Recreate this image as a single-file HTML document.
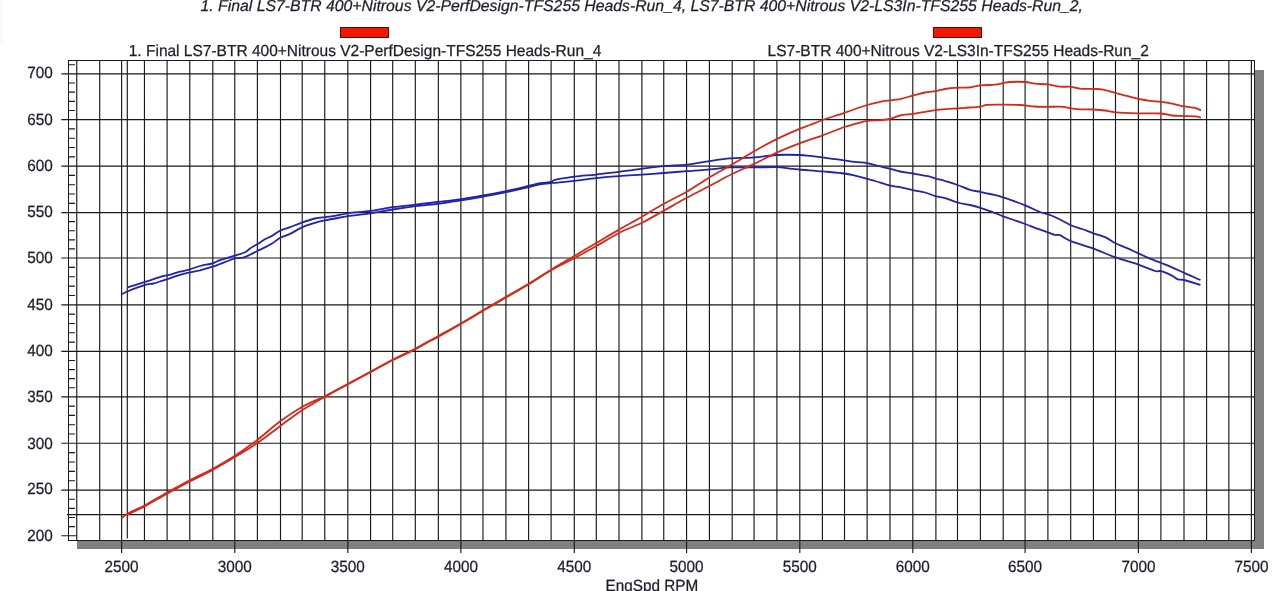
<!DOCTYPE html>
<html><head><meta charset="utf-8"><title>Dyno chart</title>
<style>
html,body{margin:0;padding:0;background:#fff;}
body{width:1280px;height:591px;overflow:hidden;}
svg{display:block;}
text{text-rendering:geometricPrecision;font-family:"Liberation Sans",Arial,sans-serif;fill:#1c1f2a;stroke:#1c1f2a;stroke-width:0.25px;}
.lbl text,text.lbl{font-size:15.3px;}
.leg{font-size:15.5px;}
.ttl{font-size:15.79px;font-style:italic;}
</style></head><body>
<svg width="1280" height="591" viewBox="0 0 1280 591">
<rect x="0" y="0" width="3" height="45" fill="#fafafa"/>
<rect x="1255" y="70" width="9" height="479" fill="#808080"/>
<rect x="77" y="541" width="1187" height="8" fill="#808080"/>
<rect x="68.5" y="60.5" width="1186.0" height="480.0" fill="#fff" stroke="#1a1a1a" stroke-width="1"/>
<path d="M76.76 60.5V540.5 M99.70 60.5V540.5 M121.60 60.5V540.5 M144.45 60.5V540.5 M167.10 60.5V540.5 M189.77 60.5V540.5 M212.80 60.5V540.5 M234.77 60.5V540.5 M257.40 60.5V540.5 M280.50 60.5V540.5 M302.20 60.5V540.5 M324.77 60.5V540.5 M347.80 60.5V540.5 M370.60 60.5V540.5 M392.70 60.5V540.5 M415.30 60.5V540.5 M438.36 60.5V540.5 M460.86 60.5V540.5 M482.97 60.5V540.5 M505.94 60.5V540.5 M528.60 60.5V540.5 M551.10 60.5V540.5 M574.30 60.5V540.5 M596.30 60.5V540.5 M619.00 60.5V540.5 M641.90 60.5V540.5 M663.75 60.5V540.5 M686.56 60.5V540.5 M709.40 60.5V540.5 M732.20 60.5V540.5 M754.06 60.5V540.5 M776.90 60.5V540.5 M799.80 60.5V540.5 M822.40 60.5V540.5 M844.50 60.5V540.5 M867.10 60.5V540.5 M890.00 60.5V540.5 M912.80 60.5V540.5 M935.90 60.5V540.5 M957.50 60.5V540.5 M980.40 60.5V540.5 M1003.20 60.5V540.5 M1025.10 60.5V540.5 M1047.90 60.5V540.5 M1070.70 60.5V540.5 M1093.40 60.5V540.5 M1115.50 60.5V540.5 M1138.40 60.5V540.5 M1160.90 60.5V540.5 M1184.00 60.5V540.5 M1206.60 60.5V540.5 M1228.85 60.5V540.5 M1251.40 60.5V540.5 M61.3 490.10H1254.5 M61.3 443.25H1254.5 M61.3 396.90H1254.5 M61.3 351.35H1254.5 M61.3 304.90H1254.5 M61.3 258.00H1254.5 M61.3 212.60H1254.5 M61.3 166.10H1254.5 M61.3 119.60H1254.5 M61.3 73.90H1254.5 M61.3 535.70H76.7 M68.5 526.58H75 M68.5 517.46H75 M68.5 508.34H75 M68.5 499.22H75 M68.5 480.73H75 M68.5 471.36H75 M68.5 461.99H75 M68.5 452.62H75 M68.5 433.98H75 M68.5 424.71H75 M68.5 415.44H75 M68.5 406.17H75 M68.5 387.79H75 M68.5 378.68H75 M68.5 369.57H75 M68.5 360.46H75 M68.5 342.06H75 M68.5 332.77H75 M68.5 323.48H75 M68.5 314.19H75 M68.5 295.52H75 M68.5 286.14H75 M68.5 276.76H75 M68.5 267.38H75 M68.5 248.92H75 M68.5 239.84H75 M68.5 230.76H75 M68.5 221.68H75 M68.5 203.30H75 M68.5 194.00H75 M68.5 184.70H75 M68.5 175.40H75 M68.5 156.80H75 M68.5 147.50H75 M68.5 138.20H75 M68.5 128.90H75 M68.5 110.46H75 M68.5 101.32H75 M68.5 92.18H75 M68.5 83.04H75 M68.5 64.70H75 M121.60 540.5V553 M234.77 540.5V553 M347.80 540.5V553 M460.86 540.5V553 M574.30 540.5V553 M686.56 540.5V553 M799.80 540.5V553 M912.80 540.5V553 M1025.10 540.5V553 M1138.40 540.5V553 M1251.40 540.5V553 M127.3 60.5V538.6 M66.8 514.6H1254.5" stroke="#1a1a1a" stroke-width="1.15" fill="none"/>
<path d="M127.2 287.5C130.1 286.6 138.4 284.1 144.3 282.2C150.2 280.3 158.9 277.2 162.7 276.1C166.5 275.0 164.4 276.2 167.3 275.5C170.2 274.8 176.2 272.7 180.0 271.7C183.8 270.7 186.5 270.3 189.8 269.4C193.1 268.4 196.2 267.0 200.0 266.0C203.8 265.0 209.3 264.3 212.6 263.3C215.9 262.3 216.3 261.5 220.0 260.2C223.7 258.9 230.8 256.9 235.0 255.6C239.2 254.3 242.5 253.4 245.0 252.2C247.5 251.1 247.9 249.8 250.0 248.4C252.1 247.0 255.2 245.6 257.7 244.1C260.2 242.5 262.6 240.6 265.0 239.2C267.4 237.8 269.4 237.3 272.0 235.9C274.6 234.5 277.3 232.0 280.3 230.6C283.3 229.1 286.3 228.6 290.0 227.2C293.7 225.8 298.3 223.8 302.5 222.3C306.7 220.9 311.2 219.4 315.0 218.5C318.8 217.6 321.9 217.5 325.2 217.1C328.5 216.6 331.2 216.4 335.0 215.8C338.8 215.2 341.9 214.1 347.8 213.3C353.7 212.5 363.0 211.9 370.5 210.9C378.0 209.9 385.3 208.2 392.8 207.2C400.3 206.1 408.0 205.5 415.5 204.6C423.0 203.7 431.9 202.7 437.7 202.0C443.4 201.3 446.1 201.1 450.0 200.6C453.9 200.1 455.7 200.0 461.2 199.2C466.8 198.3 475.6 196.8 483.1 195.5C490.6 194.2 498.5 192.7 506.1 191.1C513.7 189.5 523.1 187.3 528.8 186.0C534.4 184.7 536.2 183.9 540.0 183.2C543.8 182.5 548.9 182.6 551.4 182.0C553.9 181.4 551.2 180.7 555.0 179.8C558.8 178.9 567.5 177.6 574.4 176.7C581.3 175.8 588.8 175.4 596.2 174.6C603.6 173.8 611.4 172.7 619.0 171.8C626.6 170.8 634.5 169.7 642.0 168.8C649.5 167.8 656.2 166.8 663.7 166.1C671.2 165.4 679.3 165.5 686.9 164.7C694.5 163.9 702.3 162.2 709.5 161.1C716.7 160.0 722.5 158.9 730.0 158.3C737.5 157.7 746.4 157.9 754.2 157.3C762.0 156.8 769.2 155.4 776.7 155.0C784.2 154.6 794.0 154.8 799.5 155.0C805.0 155.2 806.1 155.5 810.0 155.9C813.9 156.3 818.4 156.8 822.6 157.3C826.8 157.9 831.4 158.7 835.0 159.2C838.6 159.7 841.1 159.9 844.4 160.3C847.7 160.8 851.2 161.4 855.0 161.9C858.8 162.4 863.9 162.5 867.2 163.1C870.6 163.7 871.2 164.3 875.0 165.2C878.8 166.2 886.1 167.7 890.2 168.8C894.4 169.8 896.2 170.7 900.0 171.5C903.8 172.3 908.2 172.7 912.9 173.5C917.6 174.3 924.2 175.4 928.0 176.2C931.8 177.1 932.8 177.7 935.6 178.5C938.4 179.3 941.4 179.9 945.0 181.0C948.6 182.1 953.3 183.5 957.5 185.0C961.7 186.5 966.2 188.6 970.0 189.8C973.8 190.9 977.1 191.2 980.4 191.9C983.7 192.6 986.2 193.1 990.0 194.0C993.8 194.9 997.3 195.4 1003.2 197.3C1009.1 199.2 1019.1 203.0 1025.2 205.4C1031.3 207.8 1036.2 210.5 1040.0 212.0C1043.8 213.5 1044.8 213.1 1047.8 214.2C1050.8 215.3 1054.1 216.7 1058.0 218.5C1061.9 220.3 1066.9 223.4 1070.9 225.2C1074.9 226.9 1078.2 227.7 1082.0 229.0C1085.8 230.3 1089.8 232.0 1093.6 233.3C1097.4 234.7 1101.3 235.5 1105.0 237.1C1108.7 238.7 1111.8 241.3 1115.5 243.2C1119.2 245.0 1123.2 246.4 1127.0 248.1C1130.8 249.8 1134.6 251.7 1138.4 253.4C1142.2 255.1 1146.2 256.9 1150.0 258.6C1153.8 260.2 1157.6 261.5 1161.3 263.0C1165.0 264.5 1168.2 265.7 1172.0 267.4C1175.8 269.0 1179.3 270.7 1184.1 272.9C1188.8 275.0 1197.8 278.8 1200.5 280.0" fill="none" stroke="#2222b0" stroke-width="1.8" stroke-linejoin="round"/>
<path d="M121.3 294.4C122.3 293.9 123.4 293.0 127.2 291.5C131.0 290.0 139.9 286.5 144.3 285.2C148.7 283.9 151.0 284.1 153.6 283.5C156.2 282.9 157.7 282.2 160.0 281.5C162.3 280.8 164.0 280.3 167.3 279.2C170.6 278.1 176.2 275.9 180.0 274.8C183.8 273.7 186.5 273.1 189.8 272.4C193.1 271.7 196.2 271.3 200.0 270.4C203.8 269.4 209.3 267.8 212.6 266.7C215.9 265.6 216.3 265.4 220.0 264.0C223.7 262.6 231.2 259.6 235.0 258.5C238.8 257.4 240.5 258.2 243.0 257.6C245.5 256.9 247.6 255.8 250.0 254.7C252.4 253.6 255.2 252.0 257.7 250.8C260.2 249.6 262.6 248.6 265.0 247.4C267.4 246.2 269.4 245.2 272.0 243.6C274.6 242.0 277.3 239.4 280.3 237.8C283.3 236.2 286.3 235.7 290.0 233.9C293.7 232.1 298.3 229.0 302.5 227.2C306.7 225.4 311.2 224.0 315.0 222.8C318.8 221.7 321.9 221.1 325.2 220.4C328.5 219.7 331.2 219.2 335.0 218.5C338.8 217.8 341.9 217.0 347.8 216.1C353.7 215.2 363.0 214.4 370.5 213.3C378.0 212.2 385.3 210.7 392.8 209.5C400.3 208.3 408.0 207.2 415.5 206.2C423.0 205.3 431.9 204.6 437.7 203.9C443.4 203.2 446.1 202.6 450.0 202.0C453.9 201.4 455.7 201.3 461.2 200.4C466.8 199.5 475.6 198.0 483.1 196.6C490.6 195.2 498.5 193.8 506.1 192.2C513.7 190.6 523.1 188.5 528.8 187.2C534.4 185.9 536.2 185.1 540.0 184.4C543.8 183.7 548.9 183.3 551.4 183.0C553.9 182.7 551.2 183.2 555.0 182.8C558.8 182.5 567.5 181.7 574.4 180.9C581.3 180.1 588.8 178.9 596.2 178.1C603.6 177.3 611.4 176.6 619.0 176.1C626.6 175.5 634.5 175.1 642.0 174.6C649.5 174.1 656.2 173.6 663.7 173.0C671.2 172.4 679.3 171.8 686.9 171.2C694.5 170.7 702.3 170.0 709.5 169.4C716.7 168.8 722.5 167.7 730.0 167.4C737.5 167.1 746.4 167.4 754.2 167.4C762.0 167.4 770.7 167.0 776.7 167.2C782.7 167.4 786.2 168.2 790.0 168.6C793.8 169.0 794.1 169.0 799.5 169.5C804.9 170.0 815.1 170.7 822.6 171.4C830.1 172.1 839.0 172.8 844.4 173.5C849.8 174.2 851.2 174.7 855.0 175.6C858.8 176.5 863.9 177.8 867.2 178.8C870.6 179.7 871.2 179.9 875.0 181.0C878.8 182.1 886.1 184.6 890.2 185.6C894.4 186.6 896.2 186.5 900.0 187.2C903.8 188.0 908.7 189.4 912.9 190.2C917.1 191.1 921.2 191.5 925.0 192.5C928.8 193.5 932.3 195.3 935.6 196.2C938.9 197.2 941.4 197.1 945.0 198.1C948.6 199.1 953.3 201.3 957.5 202.5C961.7 203.7 966.2 204.1 970.0 205.0C973.8 205.9 977.1 206.7 980.4 207.8C983.7 208.8 986.2 209.8 990.0 211.2C993.8 212.6 997.3 214.2 1003.2 216.3C1009.1 218.4 1019.9 222.1 1025.2 224.0C1030.5 225.9 1031.2 226.5 1035.0 227.9C1038.8 229.3 1044.4 231.1 1047.8 232.3C1051.1 233.5 1053.0 234.5 1055.0 235.0C1057.0 235.5 1057.3 234.2 1060.0 235.2C1062.7 236.2 1065.3 238.9 1070.9 241.1C1076.5 243.3 1086.2 245.9 1093.6 248.6C1101.0 251.3 1108.0 254.8 1115.5 257.4C1123.0 260.1 1131.8 262.3 1138.4 264.6C1145.0 266.9 1151.2 269.9 1155.0 271.0C1158.8 272.1 1158.5 270.4 1161.3 271.2C1164.1 272.0 1169.2 274.2 1172.0 275.6C1174.8 277.0 1176.0 278.7 1178.0 279.4C1180.0 280.1 1180.3 279.1 1184.1 280.0C1187.8 280.9 1197.8 284.2 1200.5 285.0" fill="none" stroke="#2222b0" stroke-width="1.8" stroke-linejoin="round"/>
<path d="M121.5 518.4C122.5 517.6 123.7 515.9 127.5 513.7C131.3 511.6 137.9 509.0 144.5 505.5C151.1 502.0 159.6 496.7 167.2 492.5C174.8 488.3 182.2 484.2 189.8 480.3C197.4 476.4 205.3 472.9 212.8 468.8C220.3 464.7 227.4 460.7 234.9 455.8C242.4 450.9 250.0 445.5 257.6 439.7C265.2 433.9 273.0 426.6 280.5 421.1C288.0 415.6 295.0 410.9 302.5 406.7C310.0 402.5 317.7 399.8 325.3 396.0C332.9 392.2 340.5 387.8 348.1 383.7C355.7 379.6 363.4 375.5 370.8 371.5C378.2 367.5 385.2 363.6 392.6 359.8C400.1 356.0 409.3 351.8 415.5 348.6C421.7 345.4 426.2 342.6 430.0 340.5C433.8 338.4 433.2 338.9 438.4 336.0C443.6 333.1 453.7 327.5 461.2 323.2C468.7 318.9 476.0 314.4 483.5 310.0C491.0 305.6 498.4 301.3 506.0 296.9C513.5 292.5 521.2 288.3 528.8 283.7C536.4 279.1 544.0 274.0 551.5 269.4C559.0 264.8 566.5 260.6 574.0 256.2C581.5 251.8 588.8 247.4 596.3 243.0C603.8 238.6 611.4 234.0 619.0 229.6C626.6 225.2 634.5 221.0 642.0 216.7C649.5 212.4 656.4 208.0 663.9 203.8C671.4 199.6 679.2 196.1 686.8 191.7C694.4 187.3 701.8 181.9 709.4 177.4C717.0 172.9 724.6 168.8 732.1 164.4C739.6 160.0 746.8 155.5 754.2 151.2C761.6 147.0 769.2 142.8 776.7 139.1C784.2 135.3 794.0 131.1 799.5 128.8C805.0 126.4 806.1 126.5 810.0 125.0C813.9 123.5 817.0 122.0 822.7 120.0C828.4 118.0 836.8 115.4 844.2 112.9C851.6 110.4 861.2 106.8 867.2 105.0C873.2 103.2 876.2 102.7 880.0 101.9C883.8 101.1 886.8 100.8 890.1 100.3C893.4 99.8 896.2 99.9 900.0 99.1C903.8 98.3 908.7 96.7 912.9 95.6C917.1 94.5 921.2 93.2 925.0 92.5C928.8 91.8 931.8 91.8 935.6 91.1C939.4 90.4 944.4 89.0 948.0 88.5C951.6 88.0 954.0 88.0 957.3 87.8C960.6 87.6 964.2 87.9 968.0 87.5C971.8 87.1 975.8 85.9 980.3 85.4C984.8 84.9 991.2 85.1 995.0 84.7C998.8 84.3 1000.5 83.7 1003.0 83.2C1005.5 82.8 1006.3 82.2 1010.0 82.0C1013.7 81.8 1021.0 81.7 1025.2 82.0C1029.4 82.3 1031.2 83.3 1035.0 83.7C1038.8 84.1 1043.8 83.9 1048.0 84.4C1052.2 84.9 1056.2 86.2 1060.0 86.6C1063.8 87.0 1067.4 86.5 1070.7 86.8C1074.0 87.1 1076.2 88.2 1080.0 88.6C1083.8 88.9 1089.8 88.7 1093.6 88.9C1097.4 89.1 1099.3 88.9 1103.0 89.6C1106.7 90.3 1111.4 91.9 1115.6 93.0C1119.8 94.1 1124.2 95.3 1128.0 96.2C1131.8 97.2 1134.8 98.0 1138.5 98.8C1142.2 99.6 1146.2 100.3 1150.0 100.8C1153.8 101.3 1157.6 101.3 1161.3 101.8C1165.0 102.3 1168.2 102.8 1172.0 103.6C1175.8 104.4 1180.2 105.7 1184.0 106.4C1187.8 107.1 1192.2 107.2 1195.0 107.9C1197.8 108.6 1200.0 109.9 1201.0 110.3" fill="none" stroke="#d42a1a" stroke-width="1.8" stroke-linejoin="round"/>
<path d="M127.5 514.6C130.3 513.2 137.9 509.9 144.5 506.4C151.1 502.9 159.6 497.8 167.2 493.6C174.8 489.4 182.2 485.3 189.8 481.4C197.4 477.4 205.3 473.9 212.8 469.9C220.3 465.8 227.4 461.6 234.9 457.1C242.4 452.6 250.0 448.0 257.6 442.8C265.2 437.6 273.0 431.4 280.5 425.9C288.0 420.4 295.0 414.9 302.5 410.0C310.0 405.1 317.7 400.8 325.3 396.5C332.9 392.2 340.5 388.3 348.1 384.2C355.7 380.1 363.4 376.0 370.8 372.0C378.2 368.0 385.2 364.1 392.6 360.3C400.1 356.5 409.3 352.4 415.5 349.2C421.7 346.0 426.2 343.1 430.0 341.0C433.8 338.9 433.2 339.7 438.4 336.8C443.6 333.9 453.7 328.2 461.2 323.8C468.7 319.4 476.0 315.0 483.5 310.6C491.0 306.2 498.4 301.9 506.0 297.5C513.5 293.1 521.2 288.9 528.8 284.3C536.4 279.7 544.0 274.3 551.5 270.0C559.0 265.7 566.5 262.3 574.0 258.3C581.5 254.3 588.8 250.2 596.3 246.0C603.8 241.8 611.4 236.9 619.0 233.0C626.6 229.1 634.5 226.5 642.0 222.8C649.5 219.1 656.4 214.8 663.9 210.6C671.4 206.4 679.2 201.9 686.8 197.8C694.4 193.7 701.8 190.0 709.4 186.0C717.0 182.0 724.6 177.7 732.1 174.0C739.6 170.3 746.8 167.5 754.2 163.9C761.6 160.3 769.2 156.0 776.7 152.6C784.2 149.2 791.9 146.2 799.5 143.3C807.1 140.4 815.1 138.0 822.6 135.3C830.1 132.6 838.9 128.9 844.3 127.0C849.7 125.1 851.2 124.9 855.0 123.9C858.8 122.9 863.0 121.5 867.2 120.9C871.4 120.3 876.2 120.6 880.0 120.2C883.8 119.8 886.8 119.6 890.1 118.8C893.4 118.0 896.2 116.3 900.0 115.5C903.8 114.7 908.7 114.4 912.9 113.8C917.1 113.2 921.2 112.4 925.0 111.8C928.8 111.1 931.8 110.6 935.6 110.1C939.4 109.6 944.4 109.0 948.0 108.8C951.6 108.5 954.5 108.7 957.3 108.5C960.1 108.3 961.2 108.1 965.0 107.8C968.8 107.5 976.6 107.1 980.3 106.6C984.0 106.1 983.2 105.2 987.0 104.9C990.8 104.6 997.5 104.7 1003.0 104.7C1008.5 104.7 1014.7 104.7 1020.0 105.0C1025.3 105.3 1030.3 106.2 1035.0 106.5C1039.7 106.8 1043.3 106.8 1048.0 106.8C1052.7 106.8 1059.2 106.5 1063.0 106.8C1066.8 107.1 1067.9 108.0 1070.7 108.4C1073.5 108.8 1076.2 109.1 1080.0 109.3C1083.8 109.5 1089.4 109.3 1093.6 109.5C1097.8 109.7 1101.3 110.0 1105.0 110.5C1108.7 111.0 1110.0 111.8 1115.6 112.3C1121.2 112.8 1130.9 113.1 1138.5 113.3C1146.1 113.5 1155.7 113.1 1161.3 113.5C1166.9 113.9 1168.2 115.1 1172.0 115.5C1175.8 115.9 1180.2 115.9 1184.0 116.1C1187.8 116.2 1192.2 116.2 1195.0 116.4C1197.8 116.7 1200.0 117.4 1201.0 117.6" fill="none" stroke="#d42a1a" stroke-width="1.8" stroke-linejoin="round"/>
<g class="lbl"><text transform="translate(52.7 541.1) scale(1 1.06)" text-anchor="end">200</text><text transform="translate(52.7 494.3) scale(1 1.06)" text-anchor="end">250</text><text transform="translate(52.7 448.6) scale(1 1.06)" text-anchor="end">300</text><text transform="translate(52.7 401.9) scale(1 1.06)" text-anchor="end">350</text><text transform="translate(52.7 356.2) scale(1 1.06)" text-anchor="end">400</text><text transform="translate(52.7 310.1) scale(1 1.06)" text-anchor="end">450</text><text transform="translate(52.7 263.4) scale(1 1.06)" text-anchor="end">500</text><text transform="translate(52.7 216.8) scale(1 1.06)" text-anchor="end">550</text><text transform="translate(52.7 171.1) scale(1 1.06)" text-anchor="end">600</text><text transform="translate(52.7 124.7) scale(1 1.06)" text-anchor="end">650</text><text transform="translate(52.7 78.2) scale(1 1.06)" text-anchor="end">700</text><text transform="translate(121.6 572.2) scale(1 1.06)" text-anchor="middle">2500</text><text transform="translate(234.8 572.2) scale(1 1.06)" text-anchor="middle">3000</text><text transform="translate(347.8 572.2) scale(1 1.06)" text-anchor="middle">3500</text><text transform="translate(460.9 572.2) scale(1 1.06)" text-anchor="middle">4000</text><text transform="translate(574.3 572.2) scale(1 1.06)" text-anchor="middle">4500</text><text transform="translate(686.6 572.2) scale(1 1.06)" text-anchor="middle">5000</text><text transform="translate(799.8 572.2) scale(1 1.06)" text-anchor="middle">5500</text><text transform="translate(912.8 572.2) scale(1 1.06)" text-anchor="middle">6000</text><text transform="translate(1025.1 572.2) scale(1 1.06)" text-anchor="middle">6500</text><text transform="translate(1138.4 572.2) scale(1 1.06)" text-anchor="middle">7000</text><text transform="translate(1251.4 572.2) scale(1 1.06)" text-anchor="middle">7500</text></g>
<text class="lbl" transform="translate(651.8 590.6) scale(1 1.06)" text-anchor="middle">EngSpd RPM</text>
<rect x="340.5" y="27.5" width="48" height="10" fill="#f01800" stroke="#5a0a00" stroke-width="1"/>
<rect x="933.5" y="27.5" width="48" height="10" fill="#f01800" stroke="#5a0a00" stroke-width="1"/>
<text class="leg" transform="translate(365 56.1) scale(1 1.03)" text-anchor="middle">1. Final LS7-BTR 400+Nitrous V2-PerfDesign-TFS255 Heads-Run_4</text>
<text class="leg" transform="translate(958.2 56.1) scale(1 1.03)" text-anchor="middle">LS7-BTR 400+Nitrous V2-LS3In-TFS255 Heads-Run_2</text>
<text class="ttl" x="641.8" y="11" text-anchor="middle">1. Final LS7-BTR 400+Nitrous V2-PerfDesign-TFS255 Heads-Run_4, LS7-BTR 400+Nitrous V2-LS3In-TFS255 Heads-Run_2,</text>
</svg>
</body></html>
